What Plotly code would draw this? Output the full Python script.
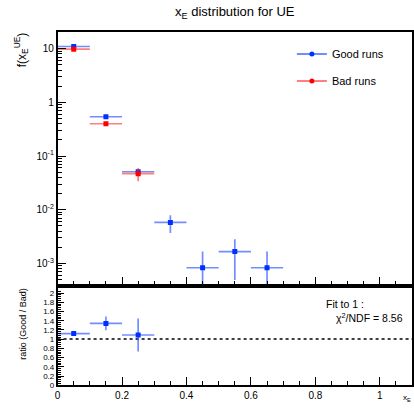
import plotly.graph_objects as go

# Bin centres and half-widths (x_E)
bin_centers = [0.05, 0.15, 0.25, 0.35, 0.45, 0.55, 0.65]
bin_half = [0.05] * 7

# f(x_E^UE) for good runs
good_vals = [11.0, 0.54, 0.051, 0.0058, 0.00083, 0.00166, 0.00083]
good_errs = [0.25, 0.02, 0.005, 0.0021, 0.00083, 0.00117, 0.00083]

# f(x_E^UE) for bad runs (only first three bins filled)
bad_centers = [0.05, 0.15, 0.25]
bad_vals = [9.8, 0.40, 0.047]
bad_errs = [0.3, 0.02, 0.013]

# Ratio good / bad
ratio_vals = [1.12, 1.34, 1.09]
ratio_errs = [0.025, 0.15, 0.36]
fit_const = 1.0
chi2_ndf = 8.56

log_ticks = [1e-3, 1e-2, 1e-1, 1, 10]
log_tick_text = ["10<sup>-3</sup>", "10<sup>-2</sup>", "10<sup>-1</sup>", "1", "10"]
log_minor = [m * 10.0 ** e for e in range(-4, 2) for m in range(2, 10)]

BLUE = "#0030ff"
BLUE_ERR = "rgba(40,80,255,0.65)"
RED = "#ff0000"
RED_ERR = "rgba(255,40,40,0.6)"
FONT = "Liberation Sans"
ERR_W = 1.7

fig = go.Figure()

fig.add_trace(go.Scatter(
    x=bin_centers, y=good_vals, mode="markers",
    marker=dict(color=BLUE, size=5, symbol="square"),
    error_x=dict(type="data", array=bin_half, color=BLUE_ERR, thickness=ERR_W, width=0),
    error_y=dict(type="data", array=good_errs, color=BLUE_ERR, thickness=ERR_W, width=0),
    showlegend=False, xaxis="x", yaxis="y"))

fig.add_trace(go.Scatter(
    x=bad_centers, y=bad_vals, mode="markers",
    marker=dict(color=RED, size=5, symbol="square"),
    error_x=dict(type="data", array=bin_half[:3], color=RED_ERR, thickness=ERR_W, width=0),
    error_y=dict(type="data", array=bad_errs, color=RED_ERR, thickness=ERR_W, width=0),
    showlegend=False, xaxis="x", yaxis="y"))

# legend entries
fig.add_trace(go.Scatter(
    x=[None], y=[None], mode="lines+markers", name="Good runs",
    line=dict(color=BLUE_ERR, width=2), marker=dict(color=BLUE, size=5),
    legendgroup="g", xaxis="x", yaxis="y"))
fig.add_trace(go.Scatter(
    x=[None], y=[None], mode="lines+markers", name="Bad runs",
    line=dict(color=RED_ERR, width=2), marker=dict(color=RED, size=5),
    legendgroup="b", xaxis="x", yaxis="y"))

# constant fit line in the ratio panel
fig.add_trace(go.Scatter(
    x=[0, 1.1], y=[fit_const, fit_const], mode="lines",
    line=dict(color="black", width=1.5, dash="dot"),
    showlegend=False, xaxis="x2", yaxis="y2"))

fig.add_trace(go.Scatter(
    x=bad_centers, y=ratio_vals, mode="markers",
    marker=dict(color=BLUE, size=5, symbol="square"),
    error_x=dict(type="data", array=bin_half[:3], color=BLUE_ERR, thickness=ERR_W, width=0),
    error_y=dict(type="data", array=ratio_errs, color=BLUE_ERR, thickness=ERR_W, width=0),
    showlegend=False, xaxis="x2", yaxis="y2"))

x_dom = [55 / 414, 412 / 414]
axis_common = dict(showline=True, linecolor="black", linewidth=1.5, mirror=True,
                   showgrid=False, zeroline=False, ticks="inside",
                   tickcolor="black")

fig.update_layout(
    width=414, height=408,
    margin=dict(l=0, r=0, t=0, b=0),
    paper_bgcolor="white", plot_bgcolor="white",
    font=dict(family=FONT, color="black", size=10),
    xaxis=dict(domain=x_dom, anchor="y", range=[0, 1.1], showticklabels=False,
               dtick=0.2, tick0=0, ticklen=8, tickwidth=1,
               minor=dict(dtick=0.05, tick0=0, ticks="inside", ticklen=4,
                          tickcolor="black", showgrid=False),
               **axis_common),
    yaxis=dict(domain=[120 / 408, 376 / 408], anchor="x", type="log",
               range=[-3.393, 1.319], tickvals=log_ticks, ticktext=log_tick_text,
               ticklen=9, tickwidth=1, tickfont=dict(size=10),
               minor=dict(tickvals=log_minor, ticks="inside", ticklen=5,
                          tickcolor="black", showgrid=False),
               **axis_common),
    xaxis2=dict(domain=x_dom, anchor="y2", range=[0, 1.1], dtick=0.2, tick0=0,
                ticklen=8, tickwidth=1, tickfont=dict(size=10),
                minor=dict(dtick=0.05, tick0=0, ticks="inside", ticklen=4,
                           tickcolor="black", showgrid=False),
                **axis_common),
    yaxis2=dict(domain=[18 / 408, 116 / 408], anchor="x2", range=[0, 2.1],
                dtick=0.2, tick0=0, ticklen=7, tickwidth=1,
                tickfont=dict(size=8),
                minor=dict(dtick=0.04, tick0=0, ticks="inside", ticklen=4,
                           tickcolor="black", showgrid=False),
                **axis_common),
    legend=dict(x=291 / 414, y=1 - 40 / 408, xanchor="left", yanchor="top",
                bgcolor="rgba(0,0,0,0)", font=dict(size=11),
                tracegroupgap=8, itemwidth=30),
    showlegend=True,
)

fig.add_annotation(text="x<sub>E</sub> distribution for UE", xref="paper", yref="paper",
                   x=(x_dom[0] + x_dom[1]) / 2, y=1 - 13 / 408, showarrow=False,
                   font=dict(size=13), xanchor="center", yanchor="middle")
fig.add_annotation(text="f(x<sub>E</sub><sup>UE</sup>)", xref="paper", yref="paper",
                   x=19 / 414, y=1 - 50 / 408, showarrow=False, textangle=-90,
                   font=dict(size=12), xanchor="center", yanchor="middle")
fig.add_annotation(text="ratio (Good / Bad)", xref="paper", yref="paper",
                   x=20 / 414, y=1 - 328 / 408, showarrow=False, textangle=-90,
                   font=dict(size=9), xanchor="center", yanchor="middle")
fig.add_annotation(text="Fit to 1 :", xref="paper", yref="paper",
                   x=323 / 414, y=1 - 308 / 408, showarrow=False,
                   font=dict(size=10.5), xanchor="left", yanchor="middle")
fig.add_annotation(text=f"\u03c7<sup>2</sup>/NDF = {chi2_ndf:.2f}", xref="paper",
                   yref="paper", x=333 / 414, y=1 - 321 / 408, showarrow=False,
                   font=dict(size=10.5), xanchor="left", yanchor="middle")
fig.add_annotation(text="x<sub>E</sub>", xref="paper", yref="paper",
                   x=407 / 414, y=1 - 403 / 408, showarrow=False,
                   font=dict(size=8), xanchor="center", yanchor="middle")

fig.write_html("out.html")
